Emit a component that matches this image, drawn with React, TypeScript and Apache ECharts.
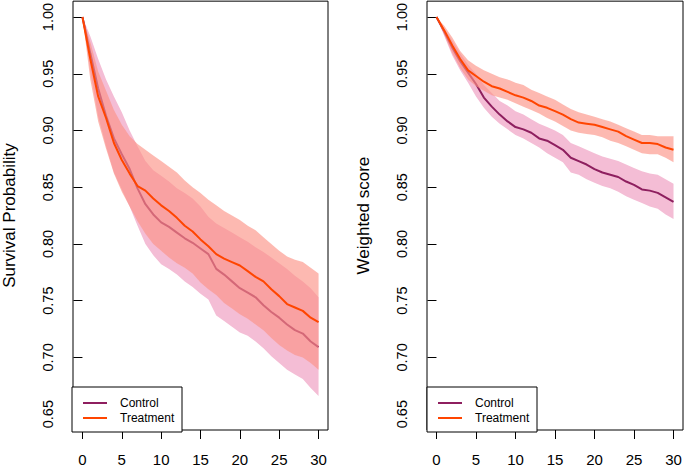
import React, { useEffect, useRef } from "react";
import * as echarts from "echarts";

const times = [0,1,2,3,4,5,6,7,8,9,10,11,12,13,14,15,16,17,18,19,20,21,22,23,24,25,26,27,28,29,30];
const xTicks = [0,5,10,15,20,25,30];
const yTicks = [0.65,0.7,0.75,0.8,0.85,0.9,0.95,1.0];
const groupNames = ["Control", "Treatment"];
const panelTitles = ["Survival Probability", "Weighted score"];

// Left panel: survival probability
const survCtrlMean = [1.000,0.968,0.937,0.913,0.893,0.879,0.866,0.849,0.835,0.826,0.819,0.815,0.810,0.805,0.801,0.796,0.791,0.778,0.773,0.767,0.761,0.757,0.753,0.746,0.740,0.735,0.729,0.724,0.721,0.714,0.709];
const survCtrlHigh = [1.000,0.983,0.963,0.945,0.930,0.916,0.900,0.886,0.873,0.865,0.860,0.855,0.849,0.845,0.840,0.833,0.824,0.818,0.814,0.810,0.806,0.802,0.797,0.793,0.788,0.783,0.778,0.772,0.767,0.761,0.753];
const survCtrlLow = [1.000,0.952,0.912,0.886,0.863,0.848,0.833,0.816,0.800,0.790,0.782,0.778,0.773,0.767,0.762,0.756,0.751,0.737,0.732,0.727,0.722,0.719,0.714,0.708,0.701,0.695,0.689,0.685,0.681,0.673,0.666];
const survTrtMean = [1.000,0.963,0.930,0.911,0.889,0.874,0.862,0.851,0.847,0.840,0.834,0.829,0.823,0.816,0.811,0.804,0.798,0.791,0.787,0.784,0.781,0.776,0.771,0.767,0.760,0.754,0.747,0.744,0.741,0.735,0.731];
const survTrtHigh = [1.000,0.978,0.952,0.935,0.918,0.905,0.895,0.888,0.883,0.878,0.873,0.868,0.863,0.856,0.850,0.845,0.839,0.834,0.829,0.825,0.821,0.816,0.812,0.806,0.800,0.794,0.789,0.786,0.784,0.779,0.774];
const survTrtLow = [1.000,0.945,0.908,0.884,0.862,0.846,0.833,0.820,0.809,0.800,0.794,0.788,0.783,0.779,0.774,0.766,0.760,0.755,0.748,0.743,0.738,0.734,0.729,0.724,0.717,0.711,0.706,0.702,0.700,0.695,0.689];

// Right panel: weighted score
const scoreCtrlMean = [1.000,0.987,0.973,0.961,0.951,0.941,0.929,0.921,0.914,0.908,0.903,0.901,0.898,0.893,0.891,0.887,0.883,0.876,0.873,0.870,0.866,0.863,0.861,0.859,0.855,0.852,0.848,0.847,0.845,0.841,0.837];
const scoreCtrlHigh = [1.000,0.990,0.979,0.968,0.958,0.950,0.940,0.933,0.926,0.922,0.917,0.914,0.910,0.906,0.903,0.900,0.896,0.889,0.886,0.883,0.880,0.877,0.875,0.873,0.870,0.867,0.864,0.862,0.861,0.857,0.853];
const scoreCtrlLow = [1.000,0.983,0.966,0.953,0.942,0.930,0.920,0.912,0.906,0.901,0.896,0.893,0.889,0.885,0.880,0.876,0.872,0.863,0.861,0.857,0.854,0.851,0.849,0.846,0.842,0.839,0.836,0.833,0.831,0.826,0.822];
const scoreTrtMean = [1.000,0.988,0.975,0.963,0.953,0.948,0.943,0.939,0.937,0.934,0.931,0.929,0.926,0.922,0.920,0.917,0.914,0.910,0.907,0.906,0.905,0.903,0.901,0.899,0.895,0.892,0.889,0.889,0.888,0.885,0.883];
const scoreTrtHigh = [1.000,0.992,0.982,0.970,0.962,0.957,0.953,0.950,0.947,0.945,0.942,0.940,0.936,0.933,0.930,0.927,0.923,0.919,0.916,0.914,0.912,0.910,0.908,0.905,0.902,0.899,0.896,0.896,0.895,0.895,0.895];
const scoreTrtLow = [1.000,0.984,0.968,0.955,0.945,0.939,0.935,0.931,0.929,0.927,0.924,0.921,0.918,0.915,0.911,0.908,0.904,0.900,0.898,0.897,0.896,0.894,0.891,0.889,0.886,0.883,0.880,0.879,0.879,0.876,0.872];

const CTRL_LINE = "#8E1F5F";
const TRT_LINE = "#FF4500";
const CTRL_BAND = "#F4BDD5";
const TRT_BAND = "rgba(252,146,133,0.64)";
const FONT = "'Liberation Sans', Arial, Helvetica, sans-serif";

function bandSeries(lo: number[], hi: number[], fill: string, idx: number, z: number) {
  return {
    type: "custom",
    xAxisIndex: idx,
    yAxisIndex: idx,
    z,
    silent: true,
    data: times.map((t, i) => [t, lo[i], hi[i]]),
    encode: { x: 0, y: [1, 2] },
    renderItem: (params: any, api: any) => {
      if (params.dataIndex !== 0) return null;
      const pts: number[][] = [];
      for (let i = 0; i < times.length; i++) pts.push(api.coord([times[i], hi[i]]));
      for (let i = times.length - 1; i >= 0; i--) pts.push(api.coord([times[i], lo[i]]));
      return { type: "polygon", shape: { points: pts }, style: { fill, stroke: null } };
    },
  };
}

function lineSeries(name: string, vals: number[], color: string, idx: number, z: number) {
  return {
    type: "line",
    name,
    xAxisIndex: idx,
    yAxisIndex: idx,
    z,
    data: times.map((t, i) => [t, vals[i]]),
    symbol: "none",
    showSymbol: false,
    silent: true,
    lineStyle: { color, width: 2 },
    itemStyle: { color },
  };
}

function legendElements(boxLeft: number) {
  const top = 387;
  return [
    { type: "rect", z: 100, shape: { x: boxLeft, y: top, width: 110, height: 45 }, style: { fill: "#fff", stroke: "#000", lineWidth: 1 } },
    { type: "line", z: 101, shape: { x1: boxLeft + 11, y1: 403, x2: boxLeft + 35, y2: 403 }, style: { stroke: CTRL_LINE, lineWidth: 2 } },
    { type: "line", z: 101, shape: { x1: boxLeft + 11, y1: 418, x2: boxLeft + 35, y2: 418 }, style: { stroke: TRT_LINE, lineWidth: 2 } },
    { type: "text", z: 101, x: boxLeft + 48, y: 403, style: { text: groupNames[0], fontSize: 12, fontFamily: FONT, fill: "#000", verticalAlign: "middle", align: "left" } },
    { type: "text", z: 101, x: boxLeft + 48, y: 418, style: { text: groupNames[1], fontSize: 12, fontFamily: FONT, fill: "#000", verticalAlign: "middle", align: "left" } },
  ];
}

export default function App() {
  const ref = useRef<HTMLDivElement>(null);
  useEffect(() => {
    if (!ref.current) return;
    const chart = echarts.init(ref.current, null, { renderer: "svg" });
    const gridLefts = [72, 427];
    const xAxes = gridLefts.map((_, i) => ({
      type: "value",
      gridIndex: i,
      min: -1.2,
      max: 31.2,
      axisLine: { show: false },
      splitLine: { show: false },
      axisTick: { show: true, inside: false, length: 9, customValues: xTicks, lineStyle: { color: "#000", width: 1 } },
      axisLabel: { customValues: xTicks, fontSize: 15, fontFamily: FONT, color: "#000", margin: 22 },
    }));
    const yAxes = gridLefts.map((_, i) => ({
      type: "value",
      gridIndex: i,
      min: 0.636,
      max: 1.014,
      name: panelTitles[i],
      nameLocation: "middle",
      nameGap: 55,
      nameTextStyle: { fontSize: 17, fontFamily: FONT, color: "#000" },
      axisLine: { show: false },
      splitLine: { show: false },
      axisTick: { show: true, inside: false, length: 9, customValues: yTicks, lineStyle: { color: "#000", width: 1 } },
      axisLabel: {
        customValues: yTicks,
        rotate: 90,
        fontSize: 14.5,
        fontFamily: FONT,
        color: "#000",
        margin: 18,
        formatter: (v: number) => v.toFixed(2),
      },
    }));
    chart.setOption({
      animation: false,
      backgroundColor: "#fff",
      grid: gridLefts.map((l) => ({ left: l, top: 1, width: 256, height: 431, show: true, borderColor: "#000", borderWidth: 1, backgroundColor: "transparent" })),
      xAxis: xAxes,
      yAxis: yAxes,
      series: [
        bandSeries(survCtrlLow, survCtrlHigh, CTRL_BAND, 0, 1),
        lineSeries(groupNames[0], survCtrlMean, CTRL_LINE, 0, 2),
        bandSeries(survTrtLow, survTrtHigh, TRT_BAND, 0, 3),
        lineSeries(groupNames[1], survTrtMean, TRT_LINE, 0, 4),
        bandSeries(scoreCtrlLow, scoreCtrlHigh, CTRL_BAND, 1, 1),
        lineSeries(groupNames[0], scoreCtrlMean, CTRL_LINE, 1, 2),
        bandSeries(scoreTrtLow, scoreTrtHigh, TRT_BAND, 1, 3),
        lineSeries(groupNames[1], scoreTrtMean, TRT_LINE, 1, 4),
      ],
      graphic: { elements: [...legendElements(72), ...legendElements(427)] },
    });
    return () => chart.dispose();
  }, []);
  return (
    <div style={{ position: "fixed", left: 0, top: 0, width: 685, height: 467, background: "#fff" }}>
      <div ref={ref} style={{ width: 685, height: 467 }} />
    </div>
  );
}
